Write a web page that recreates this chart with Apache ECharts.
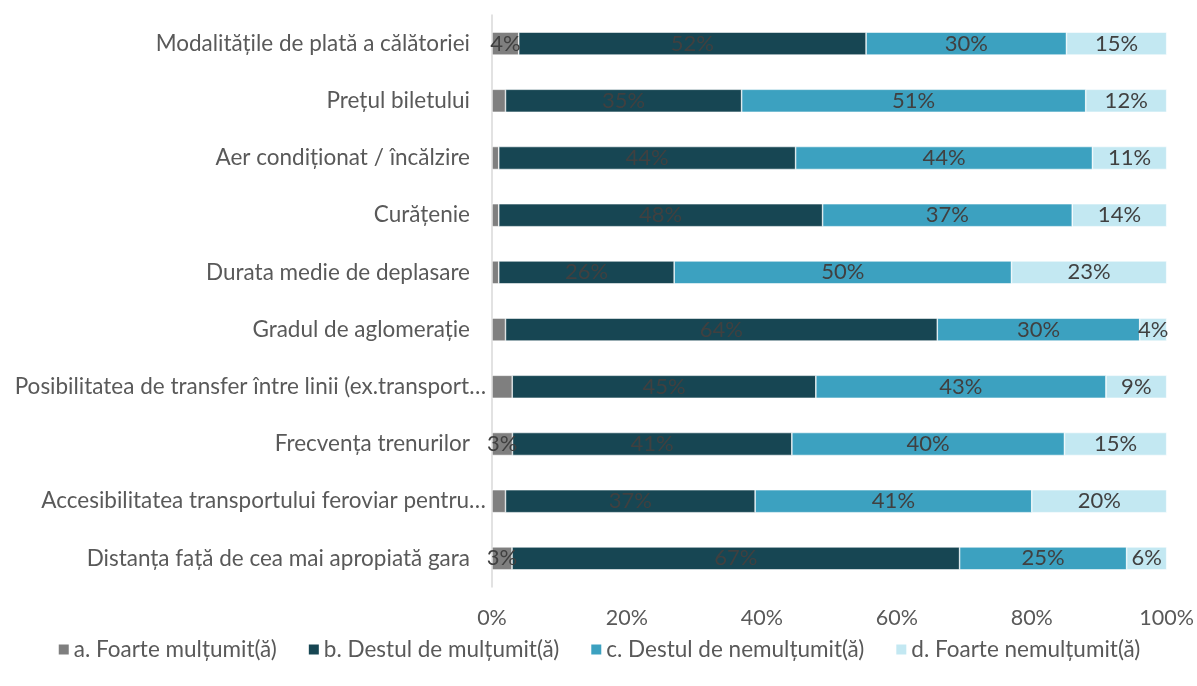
<!DOCTYPE html>
<html>
<head>
<meta charset="utf-8">
<script src="https://cdn.jsdelivr.net/npm/echarts@6/dist/echarts.min.js"></script>
<style>
  html, body { margin: 0; padding: 0; background: #ffffff; }
  #chart { width: 1197px; height: 686px; }
</style>
</head>
<body>
<div id="chart"></div>
<script>
// Satisfaction with rail travel aspects, percentages per answer (top to bottom)
const categories = [
  'Modalitățile de plată a călătoriei',
  'Prețul biletului',
  'Aer condiționat / încălzire',
  'Curățenie',
  'Durata medie de deplasare',
  'Gradul de aglomerație',
  'Posibilitatea de transfer între linii (ex.transport…',
  'Frecvența trenurilor',
  'Accesibilitatea transportului feroviar pentru…',
  'Distanța față de cea mai apropiată gara'
];

const seriesNames = [
  'a. Foarte mulțumit(ă)',
  'b. Destul de mulțumit(ă)',
  'c. Destul de nemulțumit(ă)',
  'd. Foarte nemulțumit(ă)'
];

const foarteMultumit    = [4, 2, 1, 1, 1, 2, 3, 3, 2, 3];
const destulMultumit    = [52, 35, 44, 48, 26, 64, 45, 41, 37, 67];
const destulNemultumit  = [30, 51, 44, 37, 50, 30, 43, 40, 41, 25];
const foarteNemultumit  = [15, 12, 11, 14, 23, 4, 9, 15, 20, 6];

const xTicks = [0, 20, 40, 60, 80, 100];

const colors = ['#7f7f7f', '#174653', '#3ca1c0', '#c3e8f2'];
const FONT = 'Lato';

// 100% stacked: each row is scaled to its own total; labels keep the stated value
const allValues = [foarteMultumit, destulMultumit, destulNemultumit, foarteNemultumit];
const rowTotals = categories.map((_, i) => allValues.reduce((s, arr) => s + arr[i], 0));

// rows whose smallest segment carries a visible label
const grayLabelRows = [0, 7, 9];

const series = allValues.map((vals, si) => ({
  name: seriesNames[si],
  type: 'bar',
  stack: 'total',
  barWidth: 23,
  itemStyle: { color: colors[si], borderColor: '#ffffff', borderWidth: 0.6 },
  label: {
    show: true,
    position: 'inside',
    color: '#404040',
    fontFamily: FONT,
    fontSize: 22,
    formatter: p => vals[p.dataIndex] + '%'
  },
  data: vals.map((v, i) => {
    const item = { value: v / rowTotals[i] * 100 };
    if (si === 0 && grayLabelRows.indexOf(i) < 0) item.label = { show: false };
    return item;
  })
}));

// truncated category names sit closer to the axis line
const yData = categories.map(c => c.endsWith('…')
  ? { value: c, textStyle: { padding: [0, 0, 0, 0] } }
  : c);

const chart = echarts.init(document.getElementById('chart'), null, { renderer: 'canvas' });
chart.setOption({
  animation: false,
  backgroundColor: '#ffffff',
  textStyle: { fontFamily: FONT },
  grid: { left: 492, right: 30, top: 15, bottom: 99, containLabel: false },
  legend: {
    bottom: 20,
    left: 'center',
    itemWidth: 12,
    itemHeight: 12,
    itemGap: 30,
    icon: 'rect',
    textStyle: { color: '#595959', fontSize: 22.5, fontFamily: FONT, padding: [0, 0, 0, -1] },
    data: seriesNames
  },
  xAxis: {
    type: 'value',
    min: xTicks[0],
    max: xTicks[xTicks.length - 1],
    interval: 20,
    axisLine: { show: false },
    axisTick: { show: false },
    splitLine: { show: false },
    axisLabel: {
      color: '#595959',
      fontSize: 21.5,
      fontFamily: FONT,
      margin: 20,
      formatter: '{value}%'
    }
  },
  yAxis: {
    type: 'category',
    inverse: true,
    data: yData,
    axisLine: { show: true, lineStyle: { color: '#d9d9d9', width: 1.5 } },
    axisTick: { show: false },
    axisLabel: {
      color: '#595959',
      fontSize: 22.5,
      fontFamily: FONT,
      margin: 6,
      padding: [0, 16, 0, 0]
    }
  },
  series: series
});
</script>
</body>
</html>
